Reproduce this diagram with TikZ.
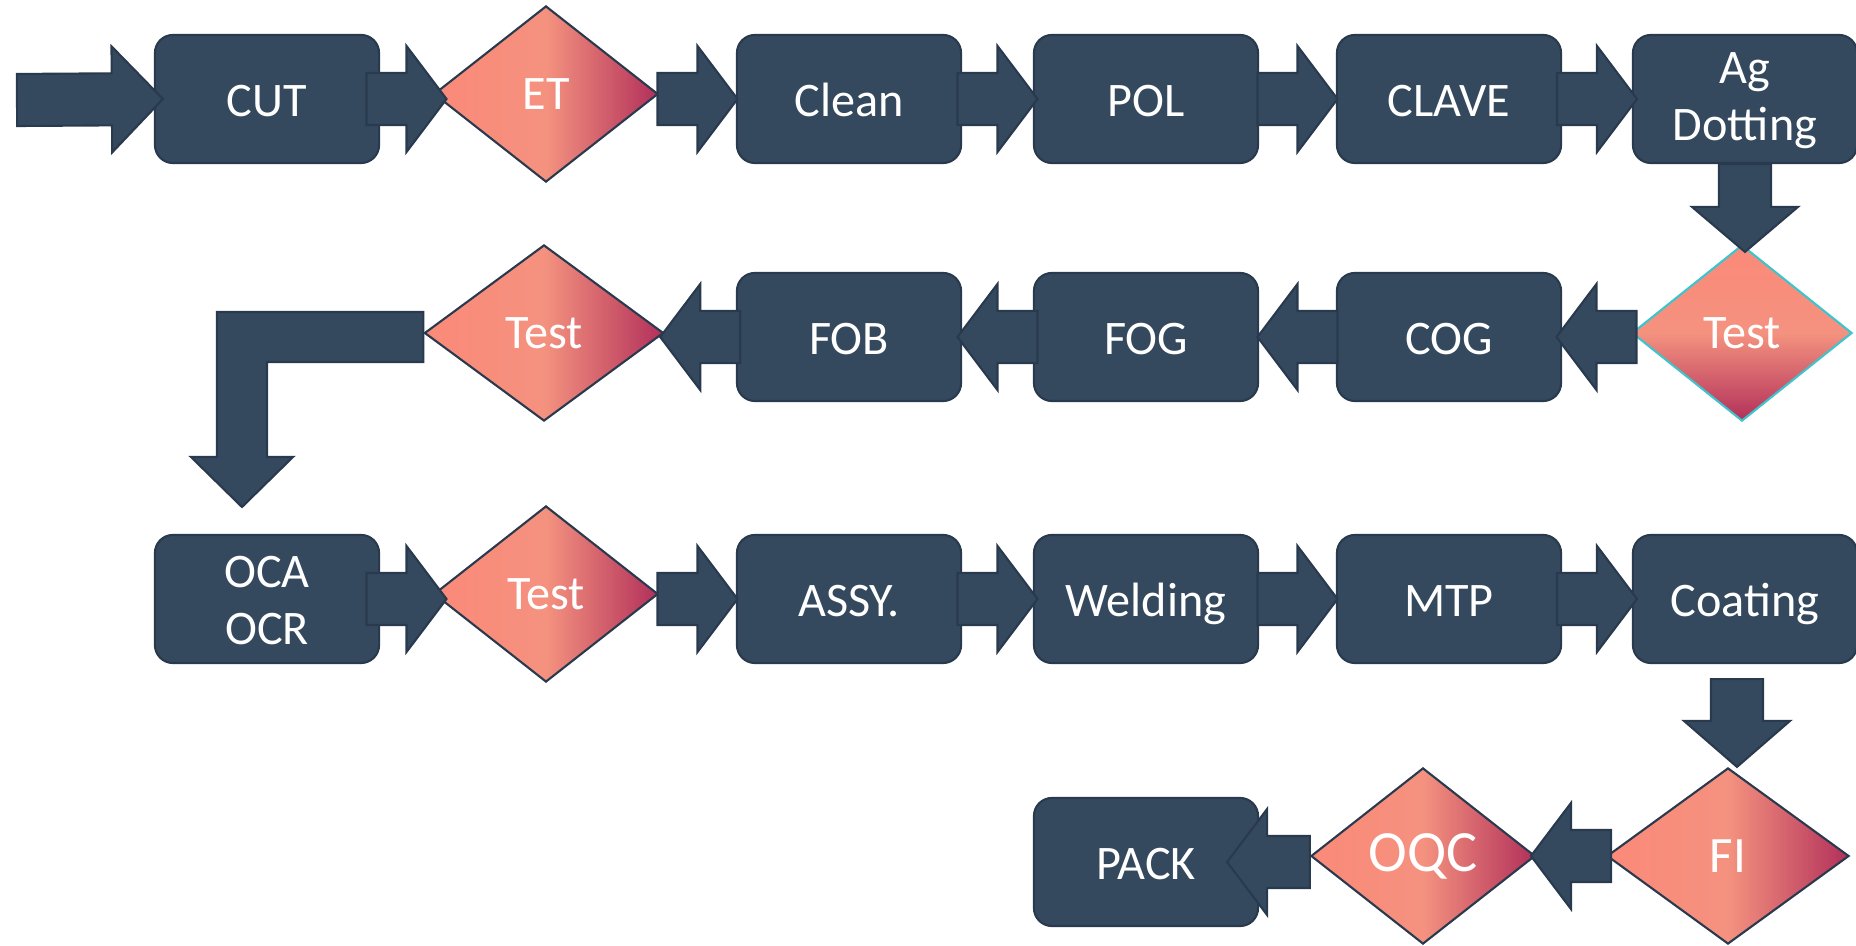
\documentclass[tikz,border=0pt]{standalone}
\usepackage{fontspec}
\setmainfont{Carlito}
\usepackage{xcolor}
\usepackage{tikz}
\usetikzlibrary{shapes.geometric,calc}

\definecolor{blu}{HTML}{34495E}
\definecolor{bordo}{HTML}{2A3A4E}
\definecolor{salmone}{HTML}{FB8978}
\definecolor{salmonechiaro}{HTML}{F4927F}
\definecolor{cremisi}{HTML}{B2305A}
\definecolor{ciano}{HTML}{3CC5CF}

\newcommand{\testo}{\fontsize{13.7}{16.2}\selectfont}

% Freccia a blocco: coda #2, punta #3
\newcommand{\blockarrow}[3][0.4cm]{%
  \coordinate (ba-s) at #2;
  \coordinate (ba-t) at #3;
  \coordinate (ba-h) at ($(ba-t)!#1!(ba-s)$);
  \filldraw[freccia] ($(ba-s)!0.26cm!90:(ba-t)$) -- ($(ba-h)!0.26cm!90:(ba-t)$)
    -- ($(ba-h)!0.53cm!90:(ba-t)$) -- (ba-t) -- ($(ba-h)!0.53cm!-90:(ba-t)$)
    -- ($(ba-h)!0.26cm!-90:(ba-t)$) -- ($(ba-s)!0.26cm!-90:(ba-t)$) -- cycle;}

% Freccia centrata fra due nodi
\newcommand{\linkarrow}[3][0.4cm]{%
  \coordinate (la-m) at ($(#2)!0.5!(#3)$);
  \blockarrow{($(la-m)!#1!(#2)$)}{($(la-m)!#1!(#3)$)}}

\begin{document}
\begin{tikzpicture}[x=0.01cm, y=-0.01cm,
  cella/.style={rectangle, rounded corners=0.18cm, fill=blu, draw=bordo, line width=0.6pt,
    minimum width=2.24cm, minimum height=1.28cm, text=white, align=center, font=\testo},
  blocco/.style={cella, text height=1.02em, text depth=0pt},
  rombo/.style={diamond, draw=bordo, line width=0.6pt, minimum width=2.24cm, minimum height=1.76cm,
    inner sep=0pt, text=white, font=\testo, left color=salmone, right color=cremisi,
    middle color=salmonechiaro},
  freccia/.style={fill=blu, draw=bordo, line width=0.6pt, line join=miter}]

\useasboundingbox (0,0) rectangle (1856,946);

% Prima riga
\node[blocco] (cut) at (267,99) {CUT};
\node[rombo] (et) at (546,94) {ET};
\node[blocco] (clean) at (849,99) {Clean};
\node[blocco] (pol) at (1146,99) {POL};
\node[blocco] (clave) at (1449,99) {CLAVE};
\node[cella] (agdot) at (1745,99) {\rule{0pt}{0.72em}Ag\\Dotting};

% Seconda riga
\node[rombo, minimum width=2.2cm, draw=ciano, top color=salmone, bottom color=cremisi,
  middle color=salmonechiaro] (testA) at (1742,333) {Test};
\node[blocco] (cog) at (1449,337) {COG};
\node[blocco] (fog) at (1146,337) {FOG};
\node[blocco] (fob) at (849,337) {FOB};
\node[rombo, minimum width=2.39cm] (testB) at (544,333) {Test};

% Terza riga
\node[cella] (ocr) at (267,599) {\rule{0pt}{0.72em}OCA\\OCR};
\node[rombo] (testC) at (546,594) {Test};
\node[blocco] (assy) at (849,599) {ASSY.};
\node[blocco] (weld) at (1146,599) {Welding};
\node[blocco] (mtp) at (1449,599) {MTP};
\node[blocco] (coat) at (1745,599) {Coating};

% Quarta riga
\node[blocco] (pack) at (1146,862) {PACK};
\node[rombo, font=\fontsize{16.6}{19}\selectfont] (oqc) at (1423,856) {OQC};
\node[rombo, minimum width=2.42cm, font=\fontsize{14.5}{17}\selectfont] (fi) at (1728,856) {FI};

% Frecce
\coordinate (inizio) at (17,100);
\blockarrow[0.51cm]{(inizio)}{([xshift=0.09cm]cut.west)}
\linkarrow{cut.east}{et.west |- cut.east}
\linkarrow{et.east |- clean.west}{clean.west}
\linkarrow{clean.east}{pol.west}
\linkarrow{pol.east}{clave.west}
\linkarrow{clave.east}{agdot.west}
\coordinate (sotto) at (agdot.south |- testA.north);
\blockarrow[0.45cm]{(agdot.south)}{([yshift=-0.08cm]sotto)}
\linkarrow{testA.west |- cog.east}{cog.east}
\linkarrow{cog.west}{fog.east}
\linkarrow{fog.west}{fob.east}
\linkarrow{fob.west}{testB.east |- fob.west}
\linkarrow{ocr.east}{testC.west |- ocr.east}
\linkarrow{testC.east |- assy.west}{assy.west}
\linkarrow{assy.east}{weld.west}
\linkarrow{weld.east}{mtp.west}
\linkarrow{mtp.east}{coat.west}
\coordinate (sopra) at ([xshift=-0.08cm]coat.south);
\blockarrow[0.46cm]{([yshift=-0.15cm]sopra)}{(fi.north -| sopra)}
\linkarrow{fi.west}{oqc.east}
\blockarrow{(oqc.west |- pack.east)}{([xshift=-0.32cm]pack.east)}

% Freccia a gomito
\coordinate (punta) at (242,507);
\coordinate (gomito) at (fob.west -| punta);
\filldraw[freccia] ($(testB.west |- fob.west)+(0,-25)$) -- ($(gomito)+(-25,-25)$)
  -- ($(punta)+(-25,-50)$) -- ($(punta)+(-51,-50)$) -- (punta) -- ($(punta)+(51,-50)$)
  -- ($(punta)+(25,-50)$) -- ($(gomito)+(25,25)$) -- ($(testB.west |- fob.west)+(0,25)$) -- cycle;

\end{tikzpicture}
\end{document}
